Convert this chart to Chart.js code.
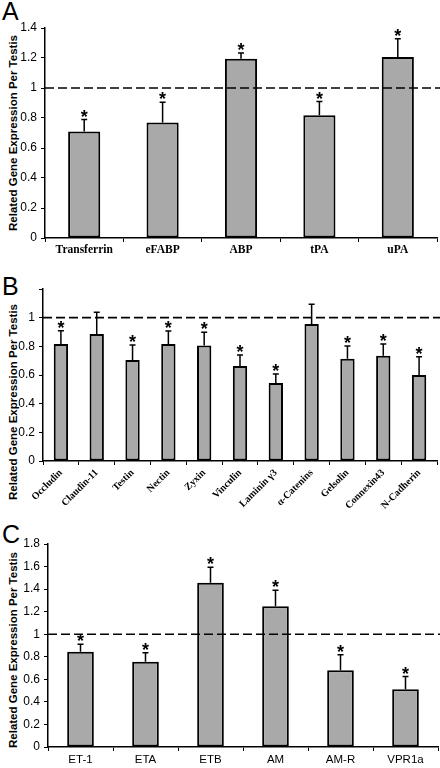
<!DOCTYPE html>
<html>
<head>
<meta charset="utf-8">
<script src="https://cdn.jsdelivr.net/npm/chart.js@4.4.0/dist/chart.umd.min.js"></script>
<style>
  body { margin: 0; background: #fff; }
  #page { position: relative; width: 440px; height: 768px; overflow: hidden; font-family: Arial, "Liberation Sans", sans-serif; }
  canvas { position: absolute; left: 0; }
  .letter { position: absolute; left: 2px; font-size: 25px; line-height: 25px; color: #000; }
  .ytitle { position: absolute; font-weight: bold; font-size: 11.5px; white-space: nowrap; color: #000;
            transform: translate(-50%, -50%) rotate(-90deg); }
</style>
</head>
<body>
<div id="page">
  <div class="letter" style="top:-1px">A</div>
  <div class="letter" style="top:274px">B</div>
  <div class="letter" style="top:522px">C</div>

  <div class="ytitle" style="left:13px; top:133px">Related Gene Expression Per Testis</div>
  <div class="ytitle" style="left:13px; top:402px">Related Gene Expression Per Testis</div>
  <div class="ytitle" style="left:13px; top:650px">Related Gene Expression Per Testis</div>

  <canvas id="chartA" width="440" height="262" style="top:0px"></canvas>
  <canvas id="chartB" width="440" height="262" style="top:262px"></canvas>
  <canvas id="chartC" width="440" height="242" style="top:526px"></canvas>
</div>

<script>
'use strict';

// ********** PANEL A DATA **********
let labelsA = ['Transferrin', 'eFABP', 'ABP', 'tPA', 'uPA'];
let valuesA = [0.71, 0.77, 1.195, 0.818, 1.206];
let errorsA = [0.08, 0.135, 0.038, 0.092, 0.123];
let starsA = [true, true, true, true, true];
let ticksA = [0, 0.2, 0.4, 0.6, 0.8, 1, 1.2, 1.4];

// ********** PANEL B DATA **********
let labelsB = ['Occludin', 'Claudin-11', 'Testin', 'Nectin', 'Zyxin', 'Vinculin',
  'Laminin γ3', 'α-Catenins', 'Gelsolin', 'Connexin43', 'N-Cadherin'];
let valuesB = [0.816, 0.886, 0.705, 0.816, 0.805, 0.663, 0.544, 0.956, 0.714, 0.735, 0.600];
let errorsB = [0.093, 0.151, 0.104, 0.091, 0.093, 0.077, 0.063, 0.137, 0.088, 0.081, 0.128];
let starsB = [true, false, true, true, true, true, true, false, true, true, true];
let ticksB = [0, 0.2, 0.4, 0.6, 0.8, 1, 1.2];

// ********** PANEL C DATA **********
let labelsC = ['ET-1', 'ETA', 'ETB', 'AM', 'AM-R', 'VPR1a'];
let valuesC = [0.844, 0.755, 1.456, 1.249, 0.681, 0.512];
let errorsC = [0.068, 0.08, 0.137, 0.142, 0.136, 0.113];
let starsC = [true, true, true, true, true, true];
let ticksC = [0, 0.2, 0.4, 0.6, 0.8, 1, 1.2, 1.4, 1.6, 1.8];

let referenceLevel = 1;

// error bars, asterisks and the dashed control line
let extrasPlugin = {
  id: 'extras',
  afterDatasetsDraw(chart, args, opts) {
    let ctx = chart.ctx;
    let yScale = chart.scales.y;
    let area = chart.chartArea;
    let meta = chart.getDatasetMeta(0);

    ctx.save();
    ctx.strokeStyle = '#000';
    ctx.fillStyle = '#000';
    ctx.lineWidth = 1.5;
    ctx.font = 'bold 18px Arial';
    ctx.textAlign = 'center';
    ctx.textBaseline = 'alphabetic';
    let starDescent = ctx.measureText('*').actualBoundingBoxDescent;

    meta.data.forEach((bar, i) => {
      let top = yScale.getPixelForValue(opts.values[i] + opts.errors[i]);
      ctx.beginPath();
      ctx.moveTo(bar.x, bar.y);
      ctx.lineTo(bar.x, top);
      ctx.moveTo(bar.x - 3, top);
      ctx.lineTo(bar.x + 3, top);
      ctx.stroke();
      if (opts.stars[i]) {
        ctx.fillText('*', bar.x, top - 3 - starDescent);
      }
    });

    let yRef = yScale.getPixelForValue(referenceLevel);
    ctx.setLineDash([9, 4]);
    ctx.lineWidth = 1.6;
    ctx.beginPath();
    ctx.moveTo(area.left, yRef);
    ctx.lineTo(chart.width, yRef);
    ctx.stroke();
    ctx.restore();
  }
};

function makeChart(id, labels, values, errors, stars, tickVals, cfg) {
  return new Chart(document.getElementById(id), {
    type: 'bar',
    data: {
      labels: labels,
      datasets: [{
        data: values,
        backgroundColor: '#a9a9a9',
        borderColor: '#000',
        borderWidth: 2,
        borderSkipped: false,
        barPercentage: cfg.barPct,
        categoryPercentage: 1
      }]
    },
    options: {
      responsive: false,
      animation: false,
      events: [],
      layout: { padding: { top: cfg.padTop, right: cfg.padRight, left: 0, bottom: 0 } },
      plugins: {
        legend: { display: false },
        tooltip: { enabled: false },
        extras: { values: values, errors: errors, stars: stars }
      },
      scales: {
        x: {
          ticks: {
            color: '#000',
            font: cfg.xFont,
            autoSkip: false,
            minRotation: cfg.rot,
            maxRotation: cfg.rot,
            padding: cfg.xPad
          },
          grid: { drawOnChartArea: false, tickLength: 4, color: '#000', offset: true },
          border: { color: '#000', width: 1.5 },
          afterFit: s => { s.height = cfg.xHeight; s.paddingLeft = 0; s.paddingRight = 0; }
        },
        y: {
          min: 0,
          max: tickVals[tickVals.length - 1],
          afterBuildTicks: s => { s.ticks = tickVals.map(v => ({ value: v })); },
          ticks: {
            color: '#000',
            font: { family: 'Arial', size: 12 },
            padding: 4,
            callback: v => (cfg.hideAbove !== undefined && v > cfg.hideAbove) ? '' : String(v)
          },
          grid: { drawOnChartArea: false, tickLength: 4, color: '#000' },
          border: { color: '#000', width: 1.5 },
          afterFit: s => { s.width = cfg.yWidth; s.paddingTop = 0; s.paddingBottom = 0; }
        }
      }
    },
    plugins: [extrasPlugin]
  });
}

makeChart('chartA', labelsA, valuesA, errorsA, starsA, ticksA, {
  barPct: 0.41, padTop: 28, padRight: 3, yWidth: 45, xHeight: 24, rot: 0, xPad: 1,
  xFont: { family: '"Liberation Serif", "Times New Roman", serif', size: 11.5, weight: 'bold' }
});

makeChart('chartB', labelsB, valuesB, errorsB, starsB, ticksB, {
  barPct: 0.4, padTop: 27, padRight: 3, yWidth: 43, xHeight: 63, rot: 45, xPad: 2, hideAbove: 1,
  xFont: { family: '"Liberation Serif", "Times New Roman", serif', size: 10, weight: 'bold' }
});

makeChart('chartC', labelsC, valuesC, errorsC, starsC, ticksC, {
  barPct: 0.41, padTop: 18, padRight: 2, yWidth: 48, xHeight: 21, rot: 0, xPad: 2,
  xFont: { family: 'Arial', size: 11.5 }
});
</script>
</body>
</html>
